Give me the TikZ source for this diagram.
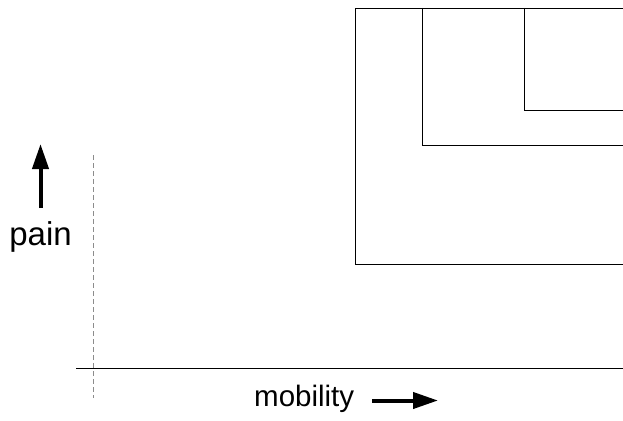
\documentclass[tikz,border=0pt]{standalone}
\usepackage{fontspec}
\setmainfont{Liberation Sans}
\usetikzlibrary{arrows.meta}
\begin{document}
\begin{tikzpicture}[x=1pt,y=-1pt,
  region/.style={draw=black,line width=0.9pt},
  axisline/.style={draw=black,line width=1.2pt},
  faintaxis/.style={draw=black!45,line width=0.8pt,dash pattern=on 5pt off 3pt},
  bigarrow/.style={line width=4pt,-{Triangle[length=25pt,width=16pt]}},
  label/.style={inner sep=0pt,anchor=base}]
\useasboundingbox (0,0) rectangle (623,420);

% nested regions, open towards the right-hand edge
\draw[region] (623,8) -- (355,8) -- (355,264) -- (623,264);
\draw[region] (422,8) -- (422,145) -- (623,145);
\draw[region] (524,8) -- (524,110) -- (623,110);

% axes
\draw[axisline] (76,368.5) -- (623,368.5);
\draw[faintaxis] (93.5,155) -- (93.5,398);

% axis labels with their arrows
\node[label,font=\fontsize{33}{33}\selectfont] (pain) at (40.5,245) {pain};
\coordinate (painfoot) at (40.5,208);
\coordinate (painhead) at (40.5,144);
\draw[bigarrow] (painfoot) -- (painhead);

\node[label,anchor=base west,font=\fontsize{29.5}{29.5}\selectfont] (mob) at (254,406) {mobility};
\coordinate (mobfoot) at (372,400.5);
\coordinate (mobhead) at (438,400.5);
\draw[bigarrow] (mobfoot) -- (mobhead);
\end{tikzpicture}
\end{document}
